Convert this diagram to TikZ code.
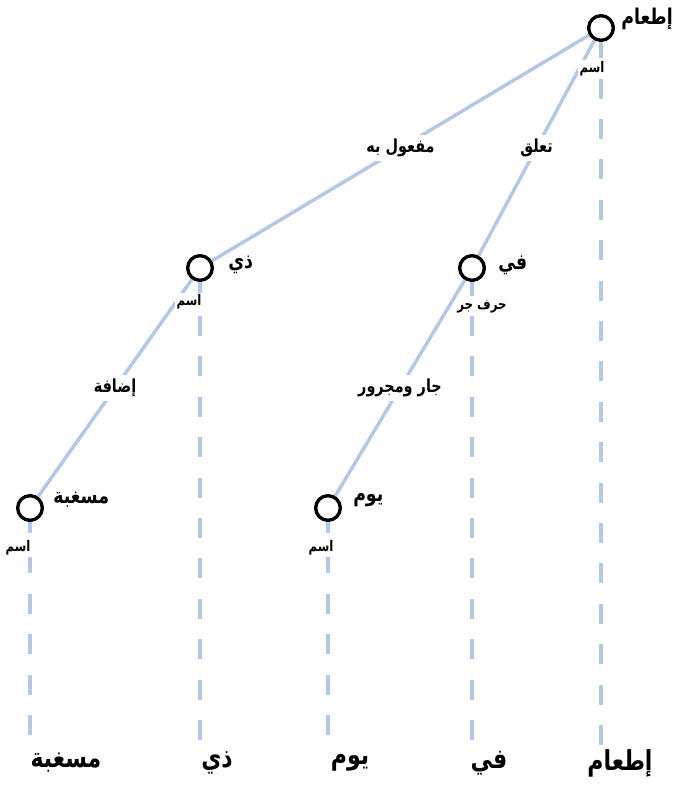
\documentclass[tikz,border=0pt]{standalone}
\usepackage{fontspec}
\usepackage{graphicx}
\TeXXeTstate=1
\newfontfamily\arabicfont[Script=Arabic]{DejaVu Sans}
% Arabic text, set a little taller than the font draws it
\newcommand\ar[1]{\scalebox{1}[1.25]{\arabicfont\beginR #1\endR}}
\definecolor{edgeblue}{HTML}{B4C7E7}
\tikzset{
  word/.style={circle, draw=black, line width=2.4pt, fill=white, minimum size=18.4pt, inner sep=0pt},
  head/.style={font=\bfseries\fontsize{13}{15}\selectfont, inner sep=0pt},
  role/.style={font=\bfseries\fontsize{8.8}{10}\selectfont, fill=white, inner sep=1pt},
  rel/.style={font=\bfseries\fontsize{10.8}{12}\selectfont, fill=white, inner sep=3pt},
  base/.style={font=\bfseries\fontsize{16.5}{19}\selectfont, inner sep=1pt},
  link/.style={draw=edgeblue, line width=2.6pt},
  proj/.style={draw=edgeblue, line width=2.6pt, dash pattern=on 15pt off 15.3pt},
}
\begin{document}
\begin{tikzpicture}[x=0.75pt, y=-0.75pt]
  \useasboundingbox (0,0) rectangle (674,792);

  % word nodes of the tree
  \node[word] (itaam) at (601,28) {};
  \node[word] (dhi)   at (200,268) {};
  \node[word] (fi)    at (472,268) {};
  \node[word] (masg)  at (30,508) {};
  \node[word] (yawm)  at (328,508) {};

  % ends of the projection lines
  \coordinate (bitaam) at (601,745);
  \coordinate (bdhi)   at (200,740);
  \coordinate (bfi)    at (472,740);
  \coordinate (bmasg)  at (30,735);
  \coordinate (byawm)  at (328,735);

  % projection lines, dashed upward from the sentence
  \draw[proj] (bitaam) -- (itaam);
  \draw[proj] (bdhi)   -- (dhi);
  \draw[proj] (bfi)    -- (fi);
  \draw[proj] (bmasg)  -- (masg);
  \draw[proj] (byawm)  -- (yawm);

  % dependency relations
  \draw[link] (itaam) -- node[rel] (rmaf) {\ar{مفعول به}} (dhi);
  \draw[link] (itaam) -- node[rel] (rtaal) {\ar{تعلق}} (fi);
  \draw[link] (dhi)   -- node[rel] (ridaf) {\ar{إضافة}} (masg);
  \draw[link] (fi)    -- node[rel] (rjar) {\ar{جار ومجرور}} (yawm);

  % redraw nodes above the lines
  \foreach \n in {itaam,dhi,fi,masg,yawm}
    \draw[black, line width=2.4pt, fill=white] (\n) circle (9.2pt);

  % word forms beside the nodes
  \node[head, anchor=east] (litaam) at (673,19) {\ar{إطعام}};
  \node[head, anchor=west] (ldhi)   at (228,265) {\ar{ذي}};
  \node[head, anchor=west] (lfi)    at (498,265) {\ar{في}};
  \node[head, anchor=west] (lmasg)  at (53,500)  {\ar{مسغبة}};
  \node[head, anchor=west] (lyawm)  at (353,500) {\ar{يوم}};

  % part-of-speech tags under the nodes
  \node[role] (titaam) at (592,69)  {\ar{اسم}};
  \node[role] (tdhi)   at (189,302) {\ar{اسم}};
  \node[role] (tfi)    at (482,307) {\ar{حرف جر}};
  \node[role] (tmasg)  at (18,548)  {\ar{اسم}};
  \node[role] (tyawm)  at (321,548) {\ar{اسم}};

  % the sentence
  \node[base] (sitaam) at (620,763) {\ar{إطعام}};
  \node[base] (sfi)    at (489,763) {\ar{في}};
  \node[base] (syawm)  at (350,763) {\ar{يوم}};
  \node[base] (sdhi)   at (217,763) {\ar{ذي}};
  \node[base] (smasg)  at (66,763)  {\ar{مسغبة}};
\end{tikzpicture}
\end{document}
